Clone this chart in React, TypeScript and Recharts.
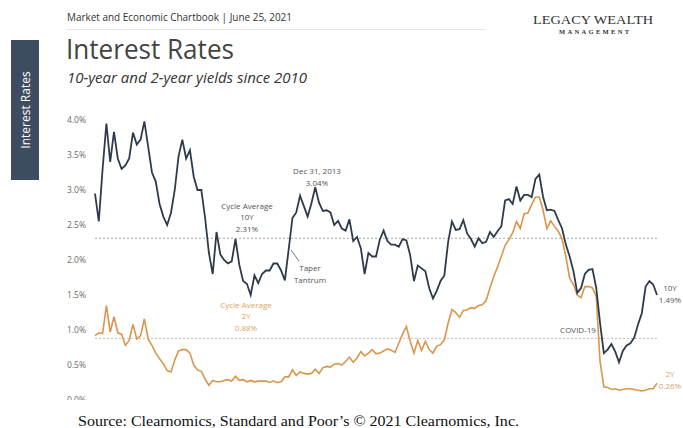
import { LineChart, Line, XAxis, YAxis, ReferenceLine } from 'recharts';

const MONTH_NAMES = ['Jan', 'Feb', 'Mar', 'Apr', 'May', 'Jun', 'Jul', 'Aug', 'Sep', 'Oct', 'Nov', 'Dec'];
const START_YEAR = 2009;
const START_MONTH = 1; // Feb
const MONTH_COUNT = 149; // Feb 2009 .. Jun 2021

// 10-year Treasury yield (%)
const TEN_YEAR = [
  2.95, 2.55, 3.3, 3.95, 3.4, 3.83, 3.45, 3.3, 3.35, 3.45,
  3.82, 3.65, 3.72, 3.98, 3.62, 3.25, 3.12, 2.8, 2.62, 2.5,
  2.67, 3.0, 3.48, 3.72, 3.45, 3.57, 3.19, 3.0, 3.0, 2.6,
  2.1, 1.8, 2.4, 2.08, 2.0, 1.95, 1.98, 2.3, 1.93, 1.7,
  1.66, 1.5, 1.78, 1.67, 1.8, 1.85, 1.85, 1.95, 1.95, 1.85,
  1.71, 2.15, 2.6, 2.68, 2.92, 2.77, 2.62, 2.81, 3.04, 2.82,
  2.7, 2.71, 2.68, 2.5, 2.56, 2.45, 2.42, 2.58, 2.27, 2.33,
  2.17, 1.8, 2.1, 2.05, 2.05, 2.29, 2.42, 2.27, 2.22, 2.22,
  2.19, 2.3, 2.28, 2.07, 1.7, 1.92, 1.88, 1.84, 1.6, 1.45,
  1.56, 1.7, 1.78, 2.26, 2.55, 2.43, 2.44, 2.57, 2.38, 2.3,
  2.19, 2.31, 2.24, 2.26, 2.4, 2.33, 2.41, 2.48, 2.85, 2.87,
  2.8, 3.05, 2.85, 2.93, 2.93, 2.9, 3.16, 3.22, 2.9, 2.71,
  2.72, 2.7, 2.57, 2.45, 2.22, 2.05, 1.84, 1.53, 1.6, 1.8,
  1.86, 1.87, 1.6, 1.1, 0.67, 0.72, 0.8, 0.69, 0.54, 0.7,
  0.78, 0.81, 0.89, 1.08, 1.24, 1.62, 1.7, 1.65, 1.5,
];

// 2-year Treasury yield (%)
const TWO_YEAR = [
  0.92, 0.96, 0.95, 1.35, 0.97, 1.19, 0.96, 0.94, 0.78, 0.85,
  1.08, 0.87, 0.92, 1.16, 0.87, 0.78, 0.67, 0.59, 0.52, 0.42,
  0.4, 0.57, 0.7, 0.72, 0.72, 0.67, 0.5, 0.43, 0.41, 0.3,
  0.21, 0.28, 0.26, 0.26, 0.28, 0.29, 0.27, 0.34, 0.28, 0.29,
  0.26, 0.28, 0.26, 0.27, 0.27, 0.27, 0.25, 0.27, 0.25, 0.26,
  0.33, 0.33, 0.43, 0.35, 0.4, 0.38, 0.37, 0.38, 0.44, 0.38,
  0.46, 0.48, 0.47, 0.51, 0.52, 0.5, 0.55, 0.61, 0.54, 0.6,
  0.69, 0.63, 0.67, 0.72, 0.66, 0.67, 0.7, 0.73, 0.71, 0.68,
  0.81, 0.94, 1.05, 0.84, 0.67, 0.85, 0.71, 0.84, 0.72, 0.67,
  0.77, 0.79, 0.86, 1.1, 1.29, 1.25, 1.18, 1.28, 1.29, 1.32,
  1.31, 1.35, 1.36, 1.42, 1.6, 1.76, 1.9, 2.05, 2.21, 2.29,
  2.39, 2.55, 2.45, 2.66, 2.67, 2.79, 2.9, 2.9, 2.71, 2.45,
  2.56, 2.48, 2.41, 2.3, 2.05, 1.74, 1.65, 1.5, 1.46, 1.62,
  1.62, 1.6, 1.48, 0.55, 0.19, 0.18, 0.15, 0.16, 0.14, 0.15,
  0.16, 0.16, 0.15, 0.14, 0.13, 0.14, 0.16, 0.16, 0.24,
];

const Y_TICKS = [0, 0.5, 1, 1.5, 2, 2.5, 3, 3.5, 4];
const AVG_10Y = 2.31;
const AVG_2Y = 0.88;

const CATEGORIES: string[] = [];
for (let i = 0; i < MONTH_COUNT; i++) {
  const m = START_MONTH + i;
  CATEGORIES.push(`${MONTH_NAMES[m % 12]} ${START_YEAR + Math.floor(m / 12)}`);
}

const data = CATEGORIES.map((month, i) => ({ month, y10: TEN_YEAR[i], y2: TWO_YEAR[i] }));

const SANS = '"Open Sans", "Noto Sans", sans-serif';
const DARK = '#2f3b4b';
const ORANGE = '#d9964c';
const NOTE = '#555';
const NOTE_ORANGE = '#d9a56a';

export default function App() {
  return (
    <div style={{ position: 'absolute', left: 0, top: 0, width: 683, height: 428, background: '#fff', overflow: 'hidden' }}>
      <LineChart
        width={683}
        height={428}
        data={data}
        margin={{ top: 120, right: 26, bottom: 28, left: 60 }}
      >
        <XAxis dataKey="month" hide />
        <YAxis
          domain={[0, 4]}
          ticks={Y_TICKS}
          width={35}
          axisLine={false}
          tickLine={false}
          tickMargin={3}
          tickFormatter={(v: number) => `${v.toFixed(1)}%`}
          tick={{ fontSize: 8.5, fill: '#6b6b6b', fontFamily: SANS }}
        />
        <ReferenceLine y={AVG_10Y} stroke="#aaa" strokeDasharray="2 2" strokeWidth={1} />
        <ReferenceLine y={AVG_2Y} stroke="#c8c0b4" strokeDasharray="2 2" strokeWidth={1} />
        <Line dataKey="y2" stroke={ORANGE} strokeWidth={1.6} dot={false} isAnimationActive={false} type="linear" />
        <Line dataKey="y10" stroke={DARK} strokeWidth={1.8} dot={false} isAnimationActive={false} type="linear" />
      </LineChart>

      <svg width={683} height={428} style={{ position: 'absolute', left: 0, top: 0, pointerEvents: 'none' }}>
        {/* side tab */}
        <rect x={11} y={40} width={28} height={140} fill="#3e4c61" />
        <text
          x={25}
          y={110}
          transform="rotate(-90 25 110)"
          textAnchor="middle"
          dominantBaseline="central"
          fontSize={12}
          fill="#fff"
          fontFamily={SANS}
        >
          Interest Rates
        </text>

        {/* header */}
        <text x={67} y={21} fontSize={11} fill="#333" fontFamily={SANS} textLength={225} lengthAdjust="spacingAndGlyphs">
          Market and Economic Chartbook | June 25, 2021
        </text>
        <line x1={67} y1={29.5} x2={485} y2={29.5} stroke="#e3e3e3" strokeWidth={1} />
        <text x={593} y={24} textAnchor="middle" fontSize={12.5} fill="#333" fontFamily='"Liberation Serif", serif' textLength={120} lengthAdjust="spacingAndGlyphs">
          LEGACY WEALTH
        </text>
        <text x={594} y={34} textAnchor="middle" fontSize={6.5} fontWeight="bold" fill="#333" fontFamily='"Liberation Serif", serif' textLength={70} lengthAdjust="spacing">
          MANAGEMENT
        </text>

        {/* title */}
        <text x={66} y={59} fontSize={28} fill="#444" fontFamily={SANS} textLength={168} lengthAdjust="spacingAndGlyphs">
          Interest Rates
        </text>
        <text x={67} y={83} fontSize={14.5} fontStyle="italic" fill="#333" fontFamily={SANS} textLength={240} lengthAdjust="spacingAndGlyphs">
          10-year and 2-year yields since 2010
        </text>

        {/* annotations */}
        <g fontFamily={SANS} fontSize={8} textAnchor="middle">
          <text x={317} y={174} fill={NOTE}>Dec 31, 2013</text>
          <text x={317} y={186} fill={NOTE}>3.04%</text>

          <text x={247} y={209} fill={NOTE}>Cycle Average</text>
          <text x={247} y={220} fill={NOTE}>10Y</text>
          <text x={247} y={232} fill={NOTE}>2.31%</text>

          <line x1={291} y1={250} x2={299} y2={261} stroke={NOTE} strokeWidth={0.8} />
          <text x={310} y={271} fill={NOTE}>Taper</text>
          <text x={310} y={283} fill={NOTE}>Tantrum</text>

          <text x={246} y={308} fill={NOTE_ORANGE}>Cycle Average</text>
          <text x={246} y={319} fill={NOTE_ORANGE}>2Y</text>
          <text x={246} y={331} fill={NOTE_ORANGE}>0.88%</text>

          <text x={578} y={333} fill={NOTE}>COVID-19</text>

          <text x={670} y={291} fill={NOTE}>10Y</text>
          <text x={670} y={303} fill={NOTE}>1.49%</text>

          <text x={670} y={377} fill={NOTE_ORANGE}>2Y</text>
          <text x={670} y={389} fill={NOTE_ORANGE}>0.26%</text>
        </g>

        {/* footer */}
        <rect x={0} y={400} width={683} height={28} fill="#fff" />
        <text x={78} y={426} fontSize={14} fill="#111" fontFamily='"Liberation Serif", "Times New Roman", serif' textLength={441} lengthAdjust="spacingAndGlyphs">
          Source: Clearnomics, Standard and Poor’s © 2021 Clearnomics, Inc.
        </text>
      </svg>
    </div>
  );
}
